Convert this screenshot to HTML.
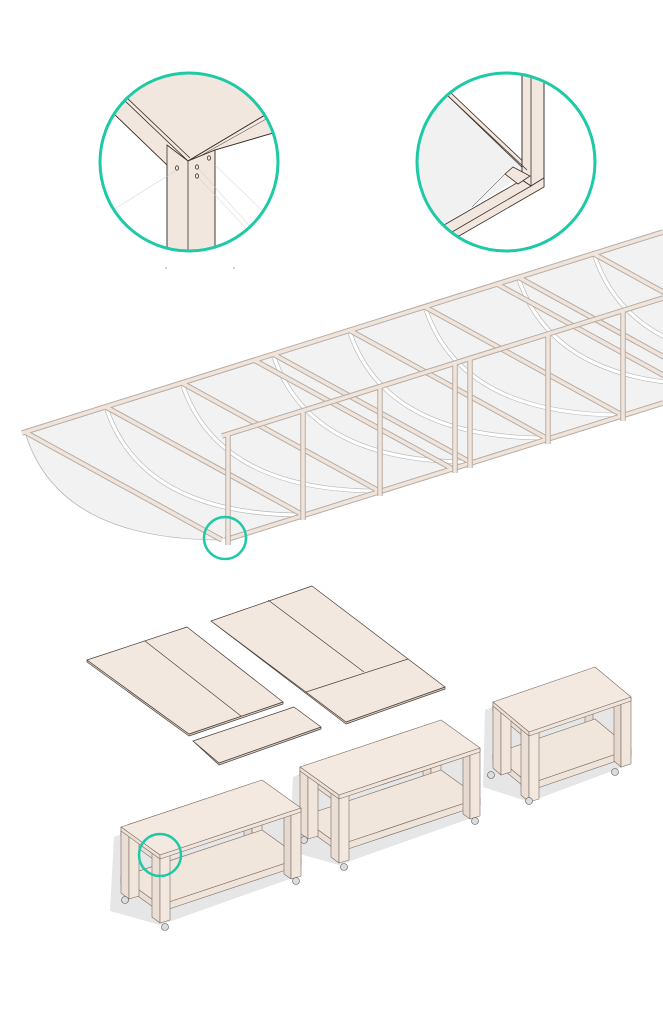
<!DOCTYPE html>
<html><head><meta charset="utf-8"><style>html,body{margin:0;padding:0;background:#fff}svg{display:block}</style></head>
<body>
<svg width="663" height="1024" viewBox="0 0 663 1024" xmlns="http://www.w3.org/2000/svg">
<defs>
<clipPath id="c1"><circle cx="189" cy="162" r="89"/></clipPath>
<clipPath id="c2"><circle cx="506" cy="162" r="89"/></clipPath>
<g id="tbl" stroke="#7a6b63" stroke-width="0.6" stroke-linejoin="round">
  <polygon points="-46,-18 102,-75 141,-47 141,20 0,70 -50,56" fill="#e6e6e6" stroke="none"/>
  <polygon points="-39,-24 102,-71 102,-66 -39,-19" fill="#e8ddd3"/>
  <polygon points="84,-67 92,-66 92,-2 84,-8" fill="#e6dad0"/>
  <polygon points="92,-66 102,-69 102,-5 92,-2" fill="#efe4da"/>
  <polygon points="-39,22 102,-25 141,3 0,50" fill="#f1e6dc"/>
  <polygon points="0,50 141,3 141,10 0,57" fill="#efe4da"/>
  <polygon points="-39,22 0,50 0,57 -39,29" fill="#ebdfd5"/>
  <polygon points="124,-49 131,-44 131,24 124,19" fill="#e6dad0"/>
  <polygon points="131,-44 141,-47 141,21 131,24" fill="#f1e6dc"/>
  <polygon points="-39,-24 0,4 0,9 -39,-19" fill="#ebdfd5"/>
  <polygon points="-39,-28 -31,-22 -31,44 -39,38" fill="#ebdfd5"/>
  <polygon points="-31,-22 -21,-25 -21,41 -31,44" fill="#f1e6dc"/>
  <polygon points="-8,-6 0,0 0,68 -8,62" fill="#ebdfd5"/>
  <polygon points="0,0 10,-3 10,65 0,68" fill="#f3e8df"/>
  <polygon points="-39,-28 102,-75 141,-47 0,0" fill="#f4e9e1"/>
  <polygon points="-39,-28 0,0 0,4 -39,-24" fill="#ede1d7"/>
  <polygon points="0,0 141,-47 141,-43 0,4" fill="#f0e5dc"/>
  <circle cx="5" cy="72" r="3.5" fill="#ddd" stroke="#555"/>
  <circle cx="136" cy="26" r="3.5" fill="#ddd" stroke="#555"/>
  <circle cx="-35" cy="45" r="3.5" fill="#ddd" stroke="#555"/>
</g>
</defs>

<g clip-path="url(#c1)" stroke="#3a302c" stroke-width="0.8">
  <polygon points="80,40 300,40 300,112 265,115 188,161 123,99 80,60" fill="#f2e7df" stroke="none"/>
  <polygon points="113,113 123,99 188,161 167,165" fill="#f2e7df"/>
  <polygon points="188,161 265,115 273,133 215,150" fill="#f2e7df"/>
  <line x1="113" y1="113" x2="167" y2="165"/>
  <line x1="215" y1="150" x2="273" y2="133"/>
  <line x1="126" y1="97" x2="190" y2="158"/>
  <line x1="188" y1="161" x2="265" y2="115"/>
  <line x1="193" y1="160" x2="268" y2="118" stroke-width="0.5"/>
  <polygon points="167,145 188,161 215,150 215,260 167,260" fill="#f2e7df"/>
  <line x1="188" y1="161" x2="188" y2="260"/>
  <line x1="167" y1="165" x2="167" y2="260"/>
  <line x1="215" y1="150" x2="215" y2="260"/>
  <g stroke="#c8c8c8" stroke-width="0.5">
    <line x1="177" y1="170" x2="108" y2="213"/>
    <line x1="198" y1="168" x2="262" y2="240"/>
    <line x1="199" y1="178" x2="260" y2="243"/>
    <line x1="215" y1="165" x2="270" y2="218"/>
  </g>
  <ellipse cx="177" cy="168" rx="1.6" ry="2.2" fill="none"/>
  <ellipse cx="197" cy="167" rx="1.6" ry="2.2" fill="none"/>
  <ellipse cx="209" cy="158" rx="1.6" ry="2.2" fill="none"/>
  <ellipse cx="197" cy="176" rx="1.6" ry="2.2" fill="none"/>
</g>
<circle cx="189" cy="162" r="89" fill="none" stroke="#1ec9a6" stroke-width="3"/>
<circle cx="166" cy="268" r="0.6" fill="#555"/><circle cx="234" cy="268" r="0.6" fill="#555"/>

<g clip-path="url(#c2)" stroke="#3a302c" stroke-width="0.8">
  <polygon points="410,60 447,95 527,170 522,176 472,207 444,225 410,240" fill="#f1f1f1" stroke="none"/>
  <polygon points="447,95 451,93 530,168 527,172" fill="#f2e7df"/>
  <polygon points="522,60 544,60 544,178 531,186 522,180" fill="#f2e7df"/>
  <line x1="522" y1="60" x2="522" y2="172"/>
  <line x1="531" y1="60" x2="531" y2="186"/>
  <line x1="544" y1="70" x2="544" y2="187"/>
  <polygon points="444,225 522,180 531,186 544,178 544,187 459,236 452,233" fill="#f2e7df"/>
  <line x1="452" y1="232" x2="531" y2="186"/>
  <polygon points="505,174 513,167 530,176 518,184" fill="#f2e7df"/>
  <line x1="447" y1="95" x2="527" y2="170"/>
  <line x1="472" y1="207" x2="505" y2="174" stroke-width="0.5"/>
</g>
<circle cx="506" cy="162" r="89" fill="none" stroke="#1ec9a6" stroke-width="3"/>

<path d="M25,432 L663,232 L663,403 L222,540 Q57,540 25,432 Z" fill="#f2f2f2"/>
<g fill="none">
  <g stroke="#b9b9b9" stroke-width="4.5">
    <path d="M106,407 Q141,515 303,515"/><path d="M182,383 Q217,491 379,491"/>
    <path d="M273,354 Q308,462 470,462"/><path d="M349,330 Q384,438 546,438"/>
    <path d="M425,307 Q460,415 622,415"/><path d="M518,277 Q553,385 715,385"/>
    <path d="M594,254 Q629,362 791,362"/>
  </g>
  <g stroke="#ffffff" stroke-width="3.2">
    <path d="M106,407 Q141,515 303,515"/><path d="M182,383 Q217,491 379,491"/>
    <path d="M273,354 Q308,462 470,462"/><path d="M349,330 Q384,438 546,438"/>
    <path d="M425,307 Q460,415 622,415"/><path d="M518,277 Q553,385 715,385"/>
    <path d="M594,254 Q629,362 791,362"/>
  </g>
  <path d="M25,432 Q57,540 222,540" stroke="#b0b0b0" stroke-width="0.7"/>
</g>
<g stroke-linecap="butt">
  <g stroke="#b8aca3" stroke-width="5.5">
    <line x1="22" y1="433" x2="663" y2="232"/>
    <line x1="225" y1="540" x2="663" y2="403"/>
    <line x1="25" y1="432" x2="222" y2="540"/><line x1="106" y1="407" x2="303" y2="515"/>
    <line x1="182" y1="383" x2="379" y2="491"/><line x1="254" y1="360" x2="451" y2="468"/>
    <line x1="273" y1="354" x2="470" y2="462"/><line x1="349" y1="330" x2="546" y2="438"/>
    <line x1="425" y1="307" x2="622" y2="415"/><line x1="497" y1="284" x2="694" y2="392"/>
    <line x1="518" y1="277" x2="715" y2="385"/><line x1="594" y1="254" x2="791" y2="362"/>
  </g>
  <g stroke="#efe5dc" stroke-width="3.5">
    <line x1="22" y1="433" x2="663" y2="232"/>
    <line x1="225" y1="540" x2="663" y2="403"/>
    <line x1="25" y1="432" x2="222" y2="540"/><line x1="106" y1="407" x2="303" y2="515"/>
    <line x1="182" y1="383" x2="379" y2="491"/><line x1="254" y1="360" x2="451" y2="468"/>
    <line x1="273" y1="354" x2="470" y2="462"/><line x1="349" y1="330" x2="546" y2="438"/>
    <line x1="425" y1="307" x2="622" y2="415"/><line x1="497" y1="284" x2="694" y2="392"/>
    <line x1="518" y1="277" x2="715" y2="385"/><line x1="594" y1="254" x2="791" y2="362"/>
  </g>
  <g stroke="#b8aca3" stroke-width="5.5">
    <line x1="222" y1="436" x2="663" y2="298"/>
    <line x1="228" y1="434" x2="228" y2="545"/><line x1="303" y1="411" x2="303" y2="520"/>
    <line x1="380" y1="387" x2="380" y2="496"/><line x1="455" y1="364" x2="455" y2="473"/>
    <line x1="470" y1="359" x2="470" y2="468"/><line x1="548" y1="335" x2="548" y2="444"/>
    <line x1="623" y1="312" x2="623" y2="421"/>
  </g>
  <g stroke="#efe5dc" stroke-width="3.5">
    <line x1="222" y1="436" x2="663" y2="298"/>
    <line x1="228" y1="434" x2="228" y2="545"/><line x1="303" y1="411" x2="303" y2="520"/>
    <line x1="380" y1="387" x2="380" y2="496"/><line x1="455" y1="364" x2="455" y2="473"/>
    <line x1="470" y1="359" x2="470" y2="468"/><line x1="548" y1="335" x2="548" y2="444"/>
    <line x1="623" y1="312" x2="623" y2="421"/>
  </g>
</g>
<circle cx="225" cy="538" r="21" fill="none" stroke="#1ec9a6" stroke-width="2.5"/>

<g stroke="#4a3f3a" stroke-width="0.7" stroke-linejoin="round">
  <polygon points="87,662 189,736 283,704 283,702 189,734 87,660" fill="#d9cdc3"/>
  <polygon points="87,660 187,627 283,702 189,734" fill="#f3e8df"/>
  <line x1="145" y1="641" x2="241" y2="716"/>
  <polygon points="211,621 346,724 445,689 445,687 346,722" fill="#d9cdc3"/>
  <polygon points="211,621 312,586 445,687 346,722" fill="#f3e8df"/>
  <line x1="268" y1="600" x2="364" y2="672"/>
  <line x1="306" y1="692" x2="408" y2="659"/>
  <polygon points="193,741 219,765 321,729 321,727 219,763" fill="#d9cdc3"/>
  <polygon points="193,741 294,707 321,727 219,763" fill="#f3e8df"/>
</g>

<g transform="translate(529,732)" stroke="#7a6b63" stroke-width="0.6" stroke-linejoin="round">
  <polygon points="-44,-22 66,-65 102,-35 102,32 0,70 -46,55" fill="#e6e6e6" stroke="none"/>
  <polygon points="-36,-26 66,-61 66,-56 -36,-21" fill="#e8ddd3"/>
  <polygon points="56,-58 64,-58 64,2 56,-4" fill="#e6dad0"/>
  <polygon points="-36,22 66,-13 102,17 0,52" fill="#f1e6dc"/>
  <polygon points="0,52 102,17 102,24 0,59" fill="#efe4da"/>
  <polygon points="-36,22 0,52 0,59 -36,29" fill="#ebdfd5"/>
  <polygon points="85,-40 92,-34 92,35 85,29" fill="#e6dad0"/>
  <polygon points="92,-32 102,-35 102,32 92,35" fill="#f1e6dc"/>
  <polygon points="-36,-26 0,4 0,9 -36,-21" fill="#ebdfd5"/>
  <polygon points="-36,-30 -28,-23 -28,43 -36,36" fill="#ebdfd5"/>
  <polygon points="-28,-23 -18,-26 -18,40 -28,43" fill="#f1e6dc"/>
  <polygon points="-8,-7 0,0 0,70 -8,63" fill="#ebdfd5"/>
  <polygon points="0,0 10,-3 10,67 0,70" fill="#f3e8df"/>
  <polygon points="-36,-30 66,-65 102,-35 0,0" fill="#f4e9e1"/>
  <polygon points="-36,-30 0,0 0,4 -36,-26" fill="#ede1d7"/>
  <polygon points="0,0 102,-35 102,-31 0,4" fill="#f0e5dc"/>
  <circle cx="0" cy="69" r="3.5" fill="#ddd" stroke="#555"/>
  <circle cx="86" cy="40" r="3.5" fill="#ddd" stroke="#555"/>
  <circle cx="-38" cy="43" r="3.5" fill="#ddd" stroke="#555"/>
</g>
<use href="#tbl" transform="translate(339,795)"/>
<use href="#tbl" transform="translate(160,855)"/>
<circle cx="160" cy="855" r="21" fill="none" stroke="#1ec9a6" stroke-width="2.5"/>
</svg>
</body></html>
